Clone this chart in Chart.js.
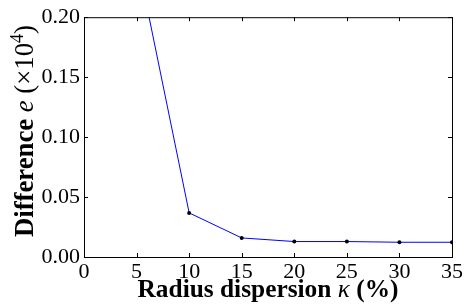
<!DOCTYPE html>
<html><head><meta charset="utf-8">
<script src="https://cdn.jsdelivr.net/npm/chart.js@4"></script>
<style>html,body{margin:0;padding:0;background:#fff}#wrap{width:472px;height:307px}</style>
</head><body><div id="wrap"><canvas id="c" width="472" height="307"></canvas></div>
<script>
const dispersion = [5, 10, 15, 20, 25, 30, 35];
const difference = [0.251, 0.0368, 0.0159, 0.0129, 0.0129, 0.0123, 0.0123];
const xTicks = [0, 5, 10, 15, 20, 25, 30, 35];
const yTicks = [0.00, 0.05, 0.10, 0.15, 0.20];

const SERIF = '"Liberation Serif", "DejaVu Serif", serif';

function drawRich(ctx, parts, targetW, cx, base) {
  const measure = size => {
    let w = 0;
    parts.forEach(p => { ctx.font = p[1] + ' ' + (size * p[2]) + 'px ' + SERIF; w += ctx.measureText(p[0]).width; });
    return w;
  };
  const size = 20 * targetW / measure(20);
  const w = measure(size);
  let s = cx - w / 2;
  parts.forEach(p => {
    ctx.font = p[1] + ' ' + (size * p[2]) + 'px ' + SERIF;
    ctx.fillText(p[0], s, base + p[3] * size);
    s += ctx.measureText(p[0]).width;
  });
}

const framePlugin = {
  id: 'frame',
  afterDatasetsDraw(chart) {
    const {ctx, chartArea: a, scales: {x, y}} = chart;
    ctx.save();
    ctx.strokeStyle = '#000';
    ctx.lineWidth = 1;
    ctx.strokeRect(a.left + 0.5, a.top + 0.5, a.right - a.left, a.bottom - a.top);
    const L = 4;
    ctx.beginPath();
    xTicks.forEach(v => {
      const px = Math.round(x.getPixelForValue(v)) + 0.5;
      ctx.moveTo(px, a.bottom); ctx.lineTo(px, a.bottom - L);
      ctx.moveTo(px, a.top); ctx.lineTo(px, a.top + L);
    });
    yTicks.forEach(v => {
      const py = Math.round(y.getPixelForValue(v)) + 0.5;
      ctx.moveTo(a.left, py); ctx.lineTo(a.left + L, py);
      ctx.moveTo(a.right, py); ctx.lineTo(a.right - L, py);
    });
    ctx.stroke();
    ctx.restore();
  },
  afterDraw(chart) {
    const {ctx, chartArea: a} = chart;
    ctx.save();
    ctx.fillStyle = '#000';
    ctx.textBaseline = 'alphabetic';
    drawRich(ctx, [
      ['Radius dispersion ', 'bold', 1, 0],
      ['κ', 'italic', 1, 0],
      [' (%)', 'bold', 1, 0]
    ], 261, (a.left + a.right) / 2, 297);
    ctx.translate(33, 131);
    ctx.rotate(-Math.PI / 2);
    drawRich(ctx, [
      ['Difference ', 'bold', 1, 0],
      ['e', 'italic', 1, 0],
      [' (×10', 'normal', 1, 0],
      ['4', 'normal', 0.68, -0.38],
      [')', 'normal', 1, 0]
    ], 212, 0, 0);
    ctx.restore();
  }
};

new Chart(document.getElementById('c'), {
  type: 'line',
  data: {
    datasets: [{
      data: dispersion.map((d, i) => ({x: d, y: difference[i]})),
      borderColor: '#0000ff',
      borderWidth: 1,
      pointBackgroundColor: '#000',
      pointBorderColor: '#000',
      pointRadius: 2,
      pointBorderWidth: 0,
      tension: 0,
      fill: false
    }]
  },
  options: {
    responsive: false,
    animation: false,
    devicePixelRatio: 1,
    layout: {padding: {top: 17, right: 20, left: 0, bottom: 0}},
    plugins: {legend: {display: false}, tooltip: {enabled: false}},
    scales: {
      x: {
        type: 'linear', min: 0, max: 35,
        afterBuildTicks: s => { s.ticks = xTicks.map(v => ({value: v})); },
        afterFit: s => { s.height = 50; },
        grid: {display: false, drawTicks: false},
        border: {display: false},
        ticks: {color: '#000', font: {family: SERIF, size: 22}, padding: 2, maxRotation: 0, callback: v => String(v)}
      },
      y: {
        type: 'linear', min: 0, max: 0.2,
        afterBuildTicks: s => { s.ticks = yTicks.map(v => ({value: v})); },
        afterFit: s => { s.width = 84; },
        grid: {display: false, drawTicks: false},
        border: {display: false},
        ticks: {color: '#000', font: {family: SERIF, size: 22}, padding: 4, callback: v => v.toFixed(2)}
      }
    }
  },
  plugins: [framePlugin]
});
</script></body></html>
